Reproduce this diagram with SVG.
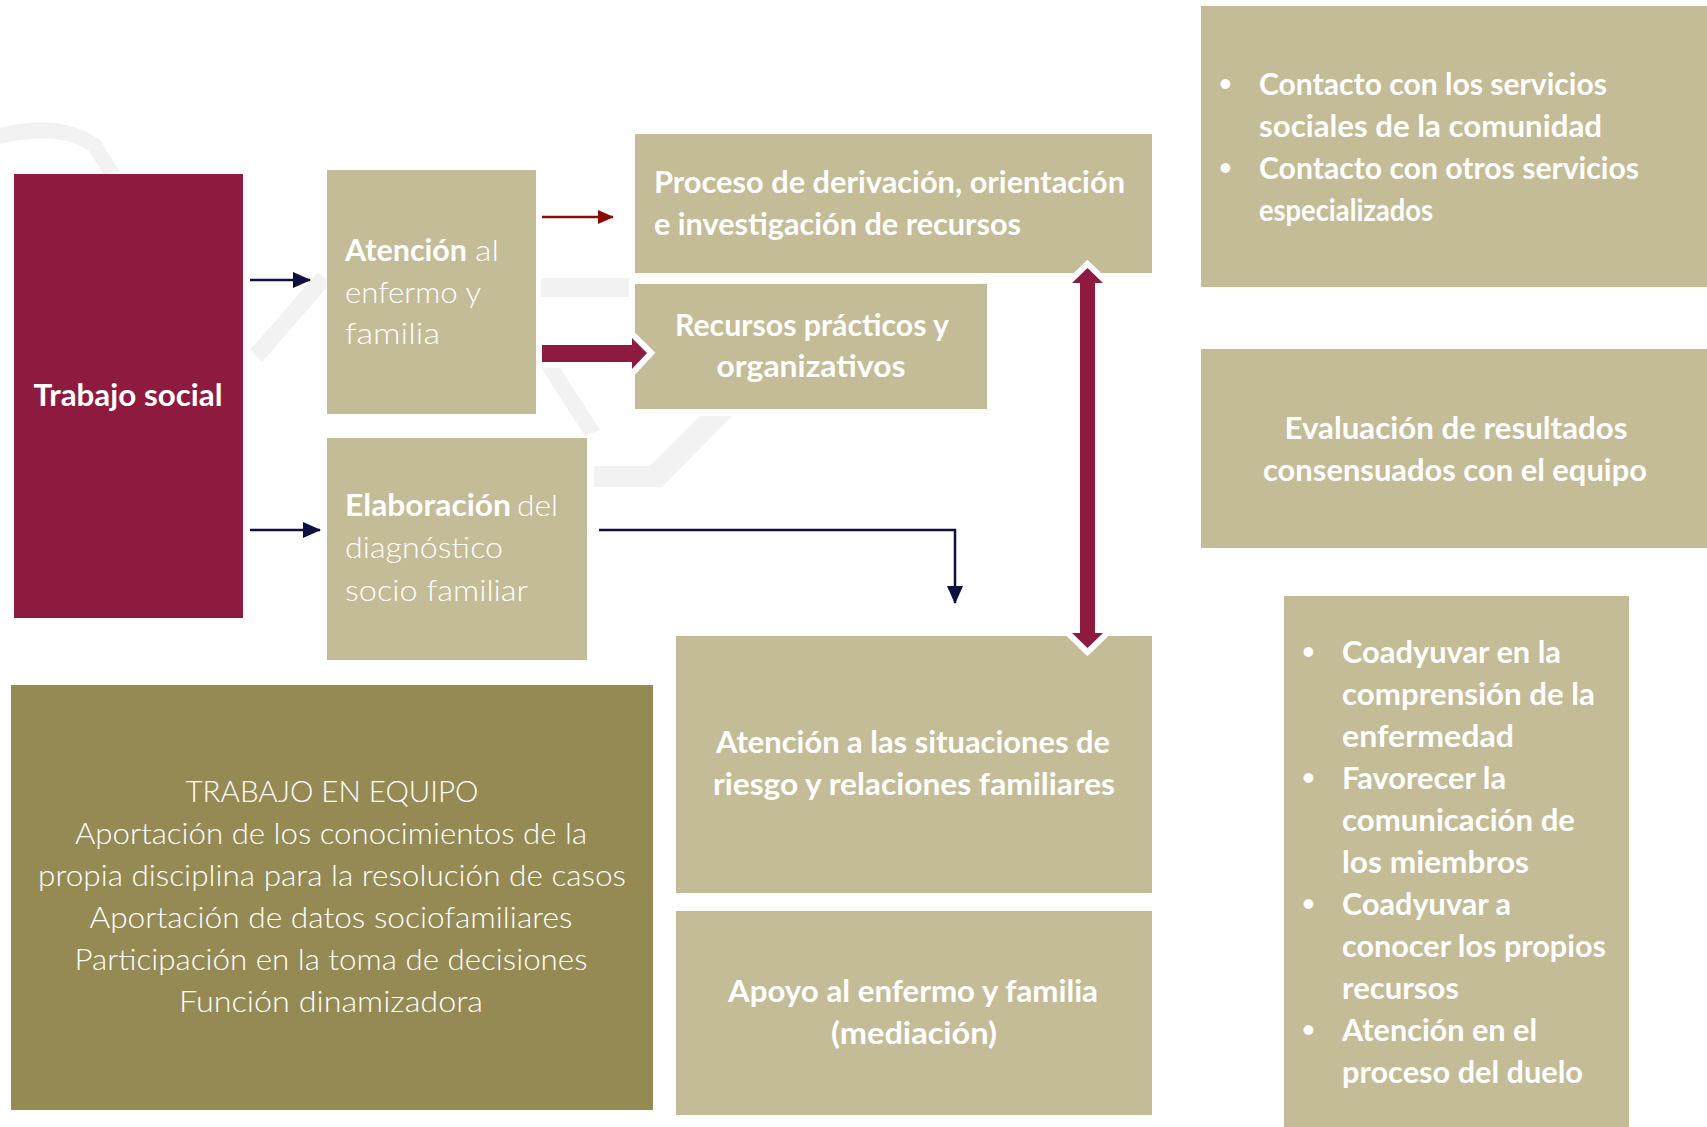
<svg xmlns="http://www.w3.org/2000/svg" width="1707" height="1127" viewBox="0 0 1707 1127">
<defs>
<style>
.t{font-family:Lato,"Open Sans","Noto Sans",sans-serif;font-size:30px;fill:#ffffff;font-weight:700}
.l{font-weight:300}
.c{text-anchor:middle}
.bl{font-size:22px}
.beige{fill:#C4BC97}
.maroon{fill:#8E1A3F}
.olive{fill:#968A54}
.wm{fill:#F3F2F2}
.nav{stroke:#0D1040;stroke-width:2.5;fill:none}
</style>
<marker id="hn" viewBox="0 0 18 16" refX="17" refY="8" markerWidth="18" markerHeight="16" markerUnits="userSpaceOnUse" orient="auto">
<path d="M0,0 L18,8 L0,16 Z" fill="#0D1040"/>
</marker>
<marker id="hr" viewBox="0 0 18 16" refX="17" refY="8" markerWidth="16" markerHeight="17" markerUnits="userSpaceOnUse" orient="auto">
<path d="M0,0 L18,8 L0,16 Z" fill="#8B0A0A"/>
</marker>
</defs>
<rect width="1707" height="1127" fill="#ffffff"/>
<g id="watermark">
<rect class="wm" x="541" y="278" width="88" height="19"/>
<polygon class="wm" points="594,466 650,466 700,416 732,416 662,487 594,487"/>
<polygon class="wm" points="540,366 556,362 600,430 585,436"/>
<polygon class="wm" points="250,350 318,272 330,284 262,362"/>
<path class="wm" d="M0,128 Q60,112 100,140 L120,172 L104,174 L88,150 Q56,130 0,144 Z"/>
</g>
<g id="trabajo-social">
<rect class="maroon" x="14" y="174" width="229" height="444"/>
<text class="t c" x="128" y="406" textLength="189" lengthAdjust="spacingAndGlyphs">Trabajo social</text>
</g>
<g id="atencion-enfermo">
<rect class="beige" x="327" y="170" width="209" height="244"/>
<text class="t" x="345" y="261" textLength="122" lengthAdjust="spacingAndGlyphs">Atención</text>
<text class="t l" x="475" y="261" textLength="24" lengthAdjust="spacingAndGlyphs">al</text>
<text class="t l" x="345" y="303" textLength="136" lengthAdjust="spacingAndGlyphs">enfermo y</text>
<text class="t l" x="345" y="344" textLength="95" lengthAdjust="spacingAndGlyphs">familia</text>
</g>
<g id="elaboracion">
<rect class="beige" x="327" y="438" width="260" height="222"/>
<text class="t" x="345" y="516" textLength="166" lengthAdjust="spacingAndGlyphs">Elaboración</text>
<text class="t l" x="517" y="516" textLength="41" lengthAdjust="spacingAndGlyphs">del</text>
<text class="t l" x="345" y="558" textLength="158" lengthAdjust="spacingAndGlyphs">diagnóstico</text>
<text class="t l" x="345" y="601" textLength="183" lengthAdjust="spacingAndGlyphs">socio familiar</text>
</g>
<g id="proceso">
<rect class="beige" x="635" y="134" width="517" height="139"/>
<text class="t" x="654" y="193" textLength="471" lengthAdjust="spacingAndGlyphs">Proceso de derivación, orientación</text>
<text class="t" x="654" y="235" textLength="367" lengthAdjust="spacingAndGlyphs">e investigación de recursos</text>
</g>
<g id="recursos">
<rect class="beige" x="635" y="284" width="352" height="125"/>
<text class="t c" x="812" y="336" textLength="274" lengthAdjust="spacingAndGlyphs">Recursos prácticos y</text>
<text class="t c" x="811" y="377" textLength="189" lengthAdjust="spacingAndGlyphs">organizativos</text>
</g>
<g id="contacto">
<rect class="beige" x="1201" y="6" width="506" height="281"/>
<text class="t bl" x="1219" y="91">•</text>
<text class="t" x="1259" y="95" textLength="348" lengthAdjust="spacingAndGlyphs">Contacto con los servicios</text>
<text class="t" x="1259" y="137" textLength="343" lengthAdjust="spacingAndGlyphs">sociales de la comunidad</text>
<text class="t bl" x="1219" y="175">•</text>
<text class="t" x="1259" y="179" textLength="380" lengthAdjust="spacingAndGlyphs">Contacto con otros servicios</text>
<text class="t" x="1259" y="221" textLength="174" lengthAdjust="spacingAndGlyphs">especializados</text>
</g>
<g id="evaluacion">
<rect class="beige" x="1201" y="349" width="506" height="199"/>
<text class="t c" x="1456" y="439" textLength="343" lengthAdjust="spacingAndGlyphs">Evaluación de resultados</text>
<text class="t c" x="1455" y="481" textLength="384" lengthAdjust="spacingAndGlyphs">consensuados con el equipo</text>
</g>
<g id="situaciones">
<rect class="beige" x="676" y="636" width="476" height="257"/>
<text class="t c" x="913" y="753" textLength="394" lengthAdjust="spacingAndGlyphs">Atención a las situaciones de</text>
<text class="t c" x="914" y="795" textLength="402" lengthAdjust="spacingAndGlyphs">riesgo y relaciones familiares</text>
</g>
<g id="apoyo">
<rect class="beige" x="676" y="911" width="476" height="204"/>
<text class="t c" x="913" y="1002" textLength="370" lengthAdjust="spacingAndGlyphs">Apoyo al enfermo y familia</text>
<text class="t c" x="914" y="1044" textLength="166" lengthAdjust="spacingAndGlyphs">(mediación)</text>
</g>
<g id="trabajo-equipo">
<rect class="olive" x="11" y="685" width="642" height="425"/>
<text class="t l c" x="332" y="802" textLength="293" lengthAdjust="spacingAndGlyphs">TRABAJO EN EQUIPO</text>
<text class="t l c" x="331" y="844" textLength="512" lengthAdjust="spacingAndGlyphs">Aportación de los conocimientos de la</text>
<text class="t l c" x="332" y="886" textLength="588" lengthAdjust="spacingAndGlyphs">propia disciplina para la resolución de casos</text>
<text class="t l c" x="331" y="928" textLength="483" lengthAdjust="spacingAndGlyphs">Aportación de datos sociofamiliares</text>
<text class="t l c" x="331" y="970" textLength="513" lengthAdjust="spacingAndGlyphs">Participación en la toma de decisiones</text>
<text class="t l c" x="331" y="1012" textLength="304" lengthAdjust="spacingAndGlyphs">Función dinamizadora</text>
</g>
<g id="apoyo-lista">
<rect class="beige" x="1284" y="596" width="345" height="531"/>
<text class="t bl" x="1302" y="659">•</text>
<text class="t" x="1342" y="663" textLength="219" lengthAdjust="spacingAndGlyphs">Coadyuvar en la</text>
<text class="t" x="1342" y="705" textLength="253" lengthAdjust="spacingAndGlyphs">comprensión de la</text>
<text class="t" x="1342" y="747" textLength="172" lengthAdjust="spacingAndGlyphs">enfermedad</text>
<text class="t bl" x="1302" y="785">•</text>
<text class="t" x="1342" y="789" textLength="164" lengthAdjust="spacingAndGlyphs">Favorecer la</text>
<text class="t" x="1342" y="831" textLength="233" lengthAdjust="spacingAndGlyphs">comunicación de</text>
<text class="t" x="1342" y="873" textLength="187" lengthAdjust="spacingAndGlyphs">los miembros</text>
<text class="t bl" x="1302" y="911">•</text>
<text class="t" x="1342" y="915" textLength="169" lengthAdjust="spacingAndGlyphs">Coadyuvar a</text>
<text class="t" x="1342" y="957" textLength="264" lengthAdjust="spacingAndGlyphs">conocer los propios</text>
<text class="t" x="1342" y="999" textLength="117" lengthAdjust="spacingAndGlyphs">recursos</text>
<text class="t bl" x="1302" y="1037">•</text>
<text class="t" x="1342" y="1041" textLength="195" lengthAdjust="spacingAndGlyphs">Atención en el</text>
<text class="t" x="1342" y="1083" textLength="241" lengthAdjust="spacingAndGlyphs">proceso del duelo</text>
</g>
<g id="connectors">
<line class="nav" x1="250" y1="280" x2="310" y2="280" marker-end="url(#hn)"/>
<line class="nav" x1="250" y1="530" x2="320" y2="530" marker-end="url(#hn)"/>
<path class="nav" d="M599,530 H955 V603" marker-end="url(#hn)"/>
<line x1="542" y1="217" x2="613" y2="217" stroke="#8B0A0A" stroke-width="2.5" marker-end="url(#hr)"/>
<polygon points="542,345 632,345 632,338 647,353 632,369 632,362 542,362" fill="#8E1A3F" stroke="#ffffff" stroke-width="12" stroke-linejoin="miter" paint-order="stroke"/>
<polygon points="1080,283 1072,283 1087.5,268 1103,283 1095,283 1095,633 1103,633 1087.5,648 1072,633 1080,633" fill="#8E1A3F" stroke="#ffffff" stroke-width="12" stroke-linejoin="miter" paint-order="stroke"/>
</g>
</svg>
